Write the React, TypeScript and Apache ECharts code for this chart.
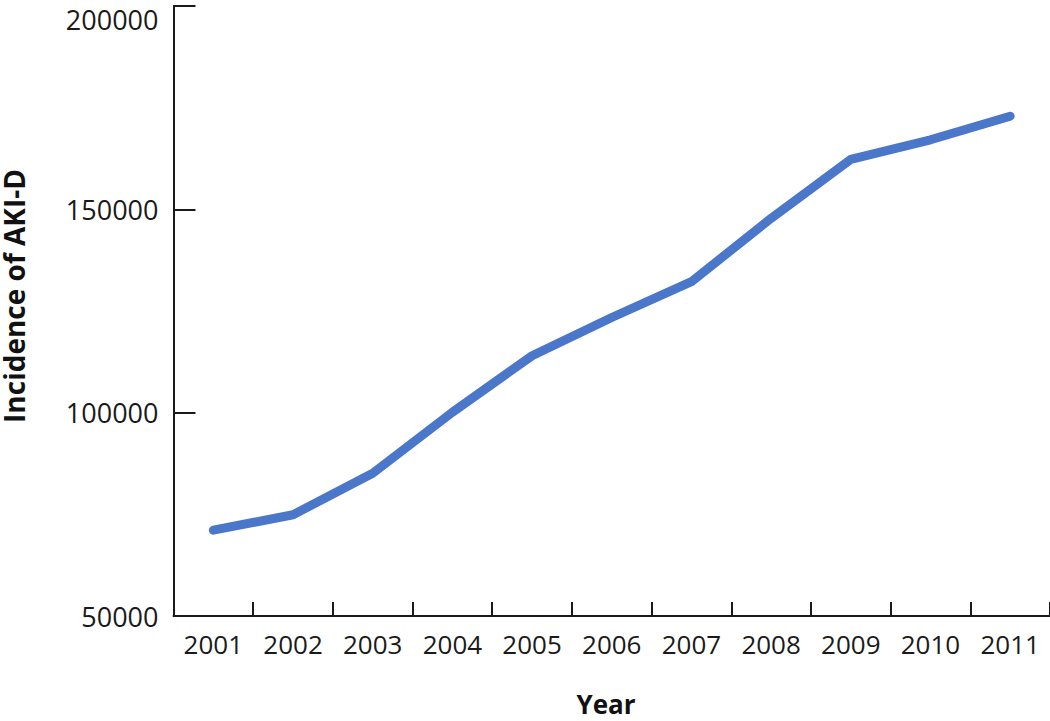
import React, { useEffect, useRef } from "react";
import * as echarts from "echarts";

const years = ["2001", "2002", "2003", "2004", "2005", "2006", "2007", "2008", "2009", "2010", "2011"];
const incidence = [71100, 74900, 85100, 100100, 114000, 123400, 132200, 147800, 162300, 167100, 172900];
const yTitle = "Incidence of AKI-D";
const xTitle = "Year";

export default function App() {
  const ref = useRef<HTMLDivElement>(null);
  useEffect(() => {
    if (!ref.current) return;
    const chart = echarts.init(ref.current, undefined, { renderer: "svg" });
    const font = "'Open Sans', sans-serif";
    chart.setOption({
      animation: false,
      backgroundColor: "#ffffff",
      grid: { left: 173.5, right: 0, top: 6, bottom: 105, containLabel: false },
      xAxis: {
        type: "category",
        data: years,
        boundaryGap: true,
        axisLine: { lineStyle: { color: "#1a1a1a", width: 2 } },
        axisTick: { show: true, inside: true, interval: 0, length: 14, lineStyle: { color: "#1a1a1a", width: 2 } },
        axisLabel: { interval: 0, color: "#1a1a1a", fontFamily: font, fontSize: 26, margin: 15 },
        splitLine: { show: false },
      },
      yAxis: {
        type: "value",
        min: 50000,
        max: 200000,
        interval: 50000,
        axisLine: { show: true, lineStyle: { color: "#1a1a1a", width: 2 } },
        axisTick: { show: true, inside: true, length: 22, lineStyle: { color: "#1a1a1a", width: 2 } },
        axisLabel: {
          color: "#1a1a1a",
          fontFamily: font,
          fontSize: 27,
          margin: 15,
          verticalAlignMaxLabel: "top",
          formatter: (v: number) => String(v),
        },
        splitLine: { show: false },
      },
      graphic: [
        {
          type: "text",
          x: 14,
          y: 296,
          rotation: Math.PI / 2,
          style: {
            text: yTitle,
            fill: "#111",
            font: `bold 28px ${font}`,
            align: "center",
            verticalAlign: "middle",
          },
        },
        {
          type: "text",
          x: 606,
          y: 704,
          style: {
            text: xTitle,
            fill: "#111",
            font: `bold 26px ${font}`,
            align: "center",
            verticalAlign: "middle",
          },
        },
      ],
      series: [
        {
          type: "line",
          data: incidence,
          symbol: "none",
          lineStyle: { color: "#4a77c9", width: 9, cap: "round", join: "round" },
        },
      ],
    });
    return () => chart.dispose();
  }, []);
  return <div ref={ref} style={{ position: "absolute", left: 0, top: 0, width: 1050, height: 721 }} />;
}
